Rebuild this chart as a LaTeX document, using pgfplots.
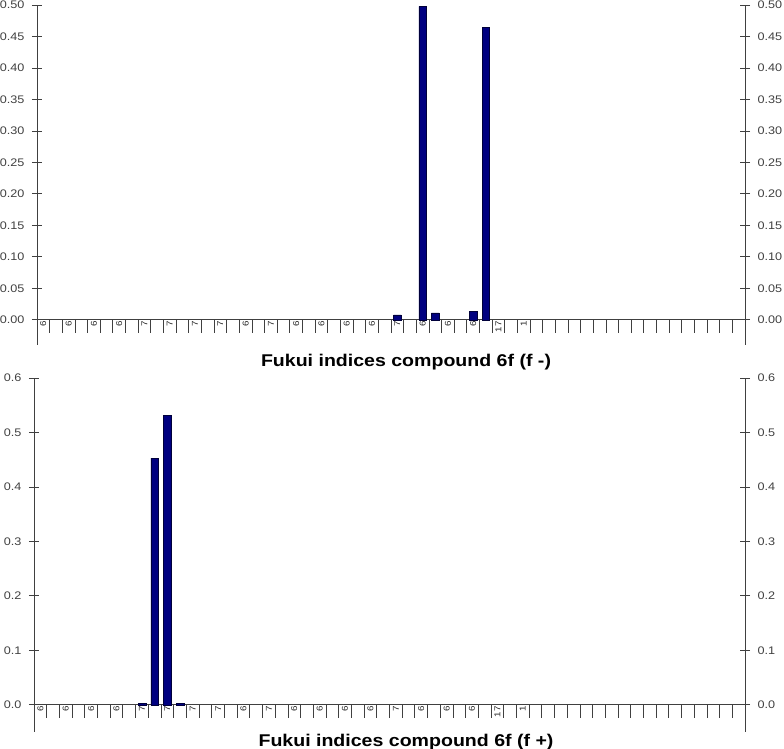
\documentclass[border=0pt]{standalone}
\usepackage{pgfplots}
\pgfplotsset{compat=1.18}
\usepackage{pgfplotstable}
\usepackage{fontspec}
\setmainfont{Liberation Sans}[FakeStretch=1.15]
\definecolor{barnavy}{RGB}{0,0,128}
\definecolor{axgray}{RGB}{64,64,64}

\pgfplotstableread{
x y
28 0.008
30 0.498
31 0.011
34 0.013
35 0.464
}\fminus
\pgfplotstableread{
x y
8 0.003
9 0.453
10 0.532
11 0.003
}\fplus

\pgfplotsset{
 base/.style={scale only axis, anchor=south west, xmin=-0.5, xmax=55.5,
   axis line style={axgray, line width=0.8pt},
   tick style={axgray, line width=0.8pt},
   tick label style={text=black!75}, clip=false},
 xpart/.style={base, axis x line*=middle, axis y line=none,
   xtick={-0.5,0.5,...,55.5}, xticklabels={}, xtick align=outside,
   major tick length=13pt,
   extra x ticks={0,2,...,38},
   extra x tick labels={6,6,6,6,7,7,7,7,6,7,6,6,6,6,7,6,6,6,17,1},
   extra x tick style={major tick length=0pt,
     tick label style={rotate=90, anchor=east, inner sep=1.5pt, text=black!85,
       font=\fontsize{8.5}{8.5}\selectfont}},
   ytick=\empty,
   ybar, bar width=0.6},
 ypart/.style={base, axis x line=none, ytick align=center,
   major tick length=10pt, xtick=\empty, hide obscured y ticks=false,
   tick label style={font=\fontsize{11}{11}\selectfont}},
 ytwo/.style={ytick={0,0.05,0.1,0.15,0.2,0.25,0.3,0.35,0.4,0.45,0.5},
   yticklabel style={/pgf/number format/fixed, /pgf/number format/fixed zerofill,
     /pgf/number format/precision=2, /pgf/number format/assume math mode=true}},
 yone/.style={ytick={0,0.1,0.2,0.3,0.4,0.5,0.6},
   yticklabel style={/pgf/number format/fixed, /pgf/number format/fixed zerofill,
     /pgf/number format/precision=1, /pgf/number format/assume math mode=true}},
 yleft/.style={axis y line*=left, yticklabel style={xshift=-4pt}},
 yright/.style={axis y line*=right, yticklabel style={xshift=4pt}},
 barst/.style={fill=barnavy, draw=black!55!barnavy, line width=0.4pt},
}

\begin{document}
\begin{tikzpicture}
\useasboundingbox (0,0) rectangle (784pt,749pt);
% ---------- top panel (f -)
\begin{axis}[xpart, at={(37pt,404pt)}, width=708pt, height=340pt, ymin=-0.04, ymax=0.5]
\addplot[barst] table[x=x,y=y]{\fminus};
\end{axis}
\begin{axis}[ypart, ytwo, yleft, at={(37pt,404pt)}, width=708pt, height=340pt, ymin=-0.04, ymax=0.5]
\end{axis}
\begin{axis}[ypart, ytwo, yright, at={(37pt,404pt)}, width=708pt, height=340pt, ymin=-0.04, ymax=0.5]
\end{axis}
\node[anchor=base, font=\fontsize{17}{17}\selectfont\bfseries] at (406pt,382pt) {Fukui indices compound 6f (f -)};
% ---------- bottom panel (f +)
\begin{axis}[xpart, at={(34pt,17pt)}, width=711pt, height=354pt, ymin=-0.05, ymax=0.6]
\addplot[barst] table[x=x,y=y]{\fplus};
\end{axis}
\begin{axis}[ypart, yone, yleft, at={(34pt,17pt)}, width=711pt, height=354pt, ymin=-0.05, ymax=0.6]
\end{axis}
\begin{axis}[ypart, yone, yright, at={(34pt,17pt)}, width=711pt, height=354pt, ymin=-0.05, ymax=0.6]
\end{axis}
\node[anchor=base, font=\fontsize{17}{17}\selectfont\bfseries] at (406pt,2.3pt) {Fukui indices compound 6f (f +)};
\end{tikzpicture}
\end{document}
